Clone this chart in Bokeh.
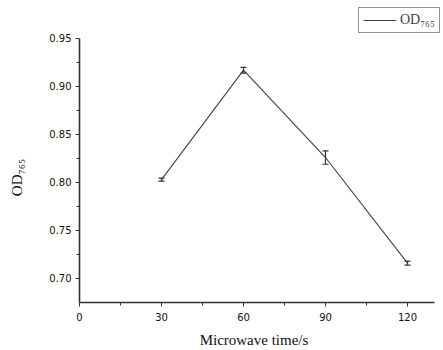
from bokeh.plotting import figure
from bokeh.models import (Range1d, FixedTicker, Whisker, TeeHead, ColumnDataSource,
                          Legend, LegendItem, CustomJSTickFormatter)
from bokeh.embed import file_html
from bokeh.resources import INLINE

time_s = [30, 60, 90, 120]
od765 = [0.803, 0.917, 0.826, 0.716]
od_err = [0.0015, 0.003, 0.007, 0.002]

x_ticks = [0, 30, 60, 90, 120]
y_ticks = [0.70, 0.75, 0.80, 0.85, 0.90, 0.95]

src = ColumnDataSource(dict(
    x=time_s, y=od765,
    lo=[v - e for v, e in zip(od765, od_err)],
    hi=[v + e for v, e in zip(od765, od_err)],
))

p = figure(width=443, height=350, output_backend="svg", toolbar_location=None,
           x_range=Range1d(0, 133.17), y_range=Range1d(0.675, 0.9854),
           min_border_left=79, min_border_right=0, min_border_top=4, min_border_bottom=48)
p.outline_line_color = None
p.grid.grid_line_color = None
p.background_fill_color = "white"

line = p.line("x", "y", source=src, line_color="#404040", line_width=1.1)
w = Whisker(base="x", lower="lo", upper="hi", source=src, line_color="#303030", line_width=1.2,
            upper_head=TeeHead(size=6, line_color="#303030", line_width=1.2),
            lower_head=TeeHead(size=6, line_color="#303030", line_width=1.2))
p.add_layout(w)

serif = "Liberation Serif"
for ax in (p.xaxis[0], p.yaxis[0]):
    ax.axis_line_color = "#333333"
    ax.axis_line_width = 1.6
    ax.major_tick_line_color = "#333333"
    ax.minor_tick_line_color = "#333333"
    ax.major_tick_out = 4
    ax.major_tick_in = 0
    ax.minor_tick_out = 3
    ax.minor_tick_in = 0
    ax.major_label_text_font = "DejaVu Sans"
    ax.major_label_text_font_size = "10px"
    ax.major_label_text_color = "#111111"
    ax.axis_label_text_font = serif
    ax.axis_label_text_font_style = "normal"
    ax.axis_label_text_font_size = "15px"
    ax.axis_label_text_color = "#111111"

p.xaxis.bounds = (0, 130)
p.yaxis.bounds = (0.675, 0.95)
p.xaxis.ticker = FixedTicker(ticks=x_ticks, minor_ticks=[15, 45, 75, 105])
p.yaxis.ticker = FixedTicker(ticks=y_ticks, minor_ticks=[0.725, 0.775, 0.825, 0.875, 0.925])
p.yaxis.formatter = CustomJSTickFormatter(code="return tick.toFixed(2);")
p.xaxis.axis_label = "Microwave time/s\u2003"
p.yaxis.axis_label = "OD\u2087\u2086\u2085\u2003\u2003\u2003\u2009"
p.xaxis.major_label_standoff = 6
p.xaxis.axis_label_standoff = 8
p.yaxis.major_label_standoff = 4
p.yaxis.axis_label_standoff = 21

legend = Legend(items=[LegendItem(label="OD\u2087\u2086\u2085", renderers=[line])],
                location=(279, 269), border_line_color="#222222", border_line_width=1,
                background_fill_alpha=1, label_text_font=serif, label_text_font_size="14px",
                glyph_width=33, glyph_height=14, padding=4, margin=0, label_standoff=4,
                spacing=0)
p.add_layout(legend)

open("out.html", "w").write(file_html(p, INLINE))
